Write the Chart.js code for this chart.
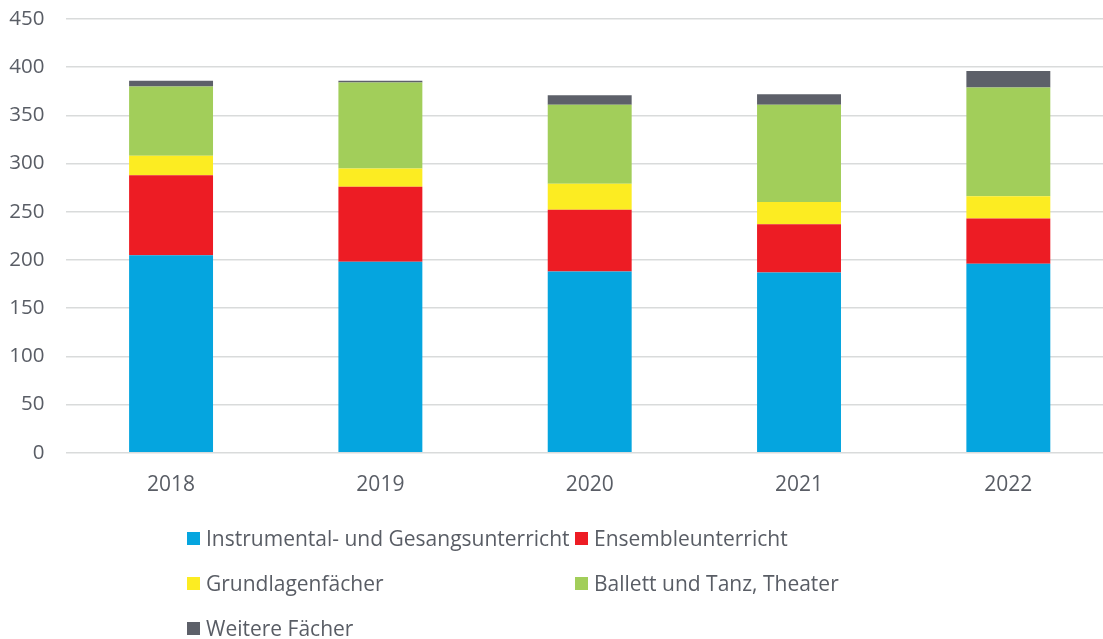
<!DOCTYPE html>
<html>
<head>
<meta charset="utf-8">
<script src="https://cdn.jsdelivr.net/npm/chart.js@4.4.1/dist/chart.umd.min.js"></script>
<style>
  html, body { margin: 0; padding: 0; background: #fff; overflow: hidden; width: 1103px; height: 639px; }
  #wrap { position: absolute; left: 0; top: 0; width: 1113px; height: 510px; }
  #legend { position: absolute; left: 0; top: 0; width: 1103px; height: 639px; pointer-events: none;
            font-family: "Open Sans", sans-serif; font-size: 21px; color: #595d65; }
  .item { position: absolute; display: flex; align-items: center; height: 26px; white-space: nowrap; }
  .box { width: 13px; height: 13px; margin-right: 6px; flex: none; }
</style>
</head>
<body>
<div id="wrap"><canvas id="c"></canvas></div>
<div id="legend"></div>
<script>
const categories = ["2018", "2019", "2020", "2021", "2022"];
const instrumental = [205, 198, 188, 187, 196];
const ensemble = [83, 78, 64, 50, 47];
const grundlagen = [20, 19, 27, 23, 23];
const ballett = [72, 89, 82, 101, 113];
const weitere = [6, 2, 10, 11, 17];
const seriesNames = ["Instrumental- und Gesangsunterricht", "Ensembleunterricht", "Grundlagenfächer", "Ballett und Tanz, Theater", "Weitere Fächer"];
const seriesColors = ["#05a5df", "#ed1c24", "#fcec22", "#a2ce5a", "#5d6069"];
const yTicks = [0, 50, 100, 150, 200, 250, 300, 350, 400, 450];

const seriesValues = [instrumental, ensemble, grundlagen, ballett, weitere];
const textColor = "#595d65";
const font = "'Open Sans', sans-serif";

const chart = new Chart(document.getElementById("c"), {
  type: "bar",
  data: {
    labels: categories,
    datasets: seriesValues.map((v, i) => ({
      label: seriesNames[i],
      data: v,
      backgroundColor: seriesColors[i],
      borderWidth: 0,
      categoryPercentage: 1,
      barPercentage: 0.401
    }))
  },
  options: {
    responsive: true,
    maintainAspectRatio: false,
    animation: false,
    layout: { padding: { top: 19, left: 0, right: 0, bottom: 0 } },
    plugins: { legend: { display: false }, tooltip: { enabled: false } },
    scales: {
      x: {
        stacked: true,
        grid: { display: false, drawTicks: false },
        border: { display: false },
        ticks: { color: textColor, font: { family: font, size: 21 }, padding: 20 },
        afterFit: (s) => { s.height = 57.3; s.paddingLeft = 0; s.paddingRight = 0; }
      },
      y: {
        stacked: true,
        min: 0, max: 450,
        afterBuildTicks: (s) => { s.ticks = yTicks.map(v => ({ value: v })); },
        grid: { color: "#d9dbdb", lineWidth: 1.5, drawTicks: false },
        border: { display: false },
        ticks: { color: textColor, font: { family: font, size: 20.5 }, padding: 22 },
        afterFit: (s) => { s.width = 66.4; s.paddingTop = 0; s.paddingBottom = 0; }
      }
    }
  }
});

const legend = document.getElementById("legend");
const positions = [[187, 538], [575, 538], [187, 583], [575, 583], [187, 628]];
chart.data.datasets.forEach((ds, i) => {
  const it = document.createElement("div");
  it.className = "item";
  it.style.left = positions[i][0] + "px";
  it.style.top = (positions[i][1] - 13) + "px";
  const b = document.createElement("span");
  b.className = "box";
  b.style.background = ds.backgroundColor;
  const t = document.createElement("span");
  t.textContent = ds.label;
  it.appendChild(b); it.appendChild(t);
  legend.appendChild(it);
});
</script>
</body>
</html>
